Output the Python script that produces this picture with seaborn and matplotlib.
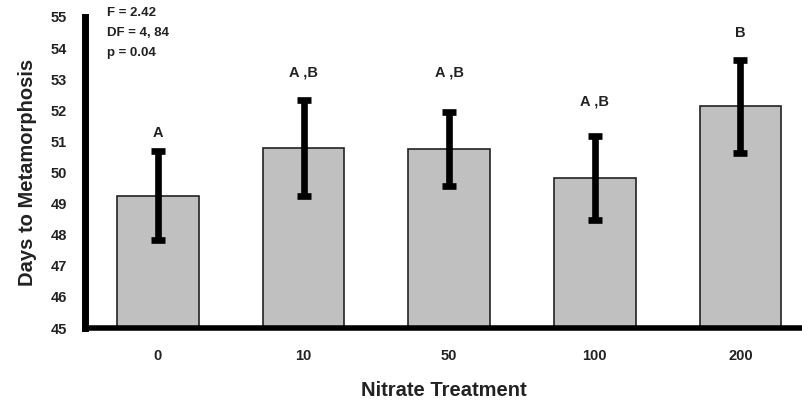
import matplotlib
matplotlib.use("Agg")
import matplotlib.pyplot as plt
import seaborn as sns
import pandas as pd

treatments = ["0", "10", "50", "100", "200"]
means = [49.25, 50.78, 50.76, 49.81, 52.13]
errors = [1.43, 1.55, 1.19, 1.35, 1.50]
letters = ["A", "A,B", "A,B", "A,B", "B"]
letter_y = [51.27, 53.2, 53.2, 52.27, 54.49]
stats_lines = ["F = 2.42", "DF = 4, 84", "p = 0.04"]

sns.set_style("white")
plt.rcParams['font.family'] = ['Liberation Sans', 'DejaVu Sans']

df = pd.DataFrame({"treatment": treatments, "days": means})

fig = plt.figure(figsize=(8.03, 4.04), dpi=100)
ax = fig.add_axes([0.106, 0.188, 0.894, 0.77])

sns.barplot(data=df, x="treatment", y="days", color="#c0c0c0", saturation=1,
            width=0.56, edgecolor="#222222", linewidth=1.2, errorbar=None, ax=ax)
ax.errorbar(range(len(treatments)), means, yerr=errors, fmt="none",
            ecolor="black", elinewidth=4.8, capsize=5, capthick=4.8, zorder=5)

for i, (lab, ly) in enumerate(zip(letters, letter_y)):
    ax.text(i, ly, lab.replace(",", " ,"), ha="center", va="center",
            fontsize=10.5, fontweight="bold", color="#222222")

for j, s in enumerate(stats_lines):
    ax.text(0.03, 1.013 - j * 0.065, s, transform=ax.transAxes, ha="left", va="center",
            fontsize=9.5, fontweight="bold", color="#222222")

ax.set_ylim(45, 55)
ax.set_xlim(-0.5, 4.43)
ax.set_yticks(range(45, 56))
ax.tick_params(axis="y", direction="in", length=4, width=3.5, labelsize=10.5, pad=13)
ax.tick_params(axis="x", length=0, labelsize=10.5, pad=15)
for lbl in ax.get_xticklabels() + ax.get_yticklabels():
    lbl.set_fontweight("bold")
    lbl.set_color("#222222")

for side in ["top", "right"]:
    ax.spines[side].set_visible(False)
ax.spines["left"].set_linewidth(5)
ax.spines["bottom"].set_linewidth(4)
for side in ["left", "bottom"]:
    ax.spines[side].set_color("black")

ax.set_xlabel("Nitrate Treatment", fontsize=14.5, fontweight="bold", labelpad=13, color="#222222")
ax.set_ylabel("Days to Metamorphosis", fontsize=14.5, fontweight="bold", labelpad=10, color="#222222")

fig.savefig("out.png", dpi=100)
